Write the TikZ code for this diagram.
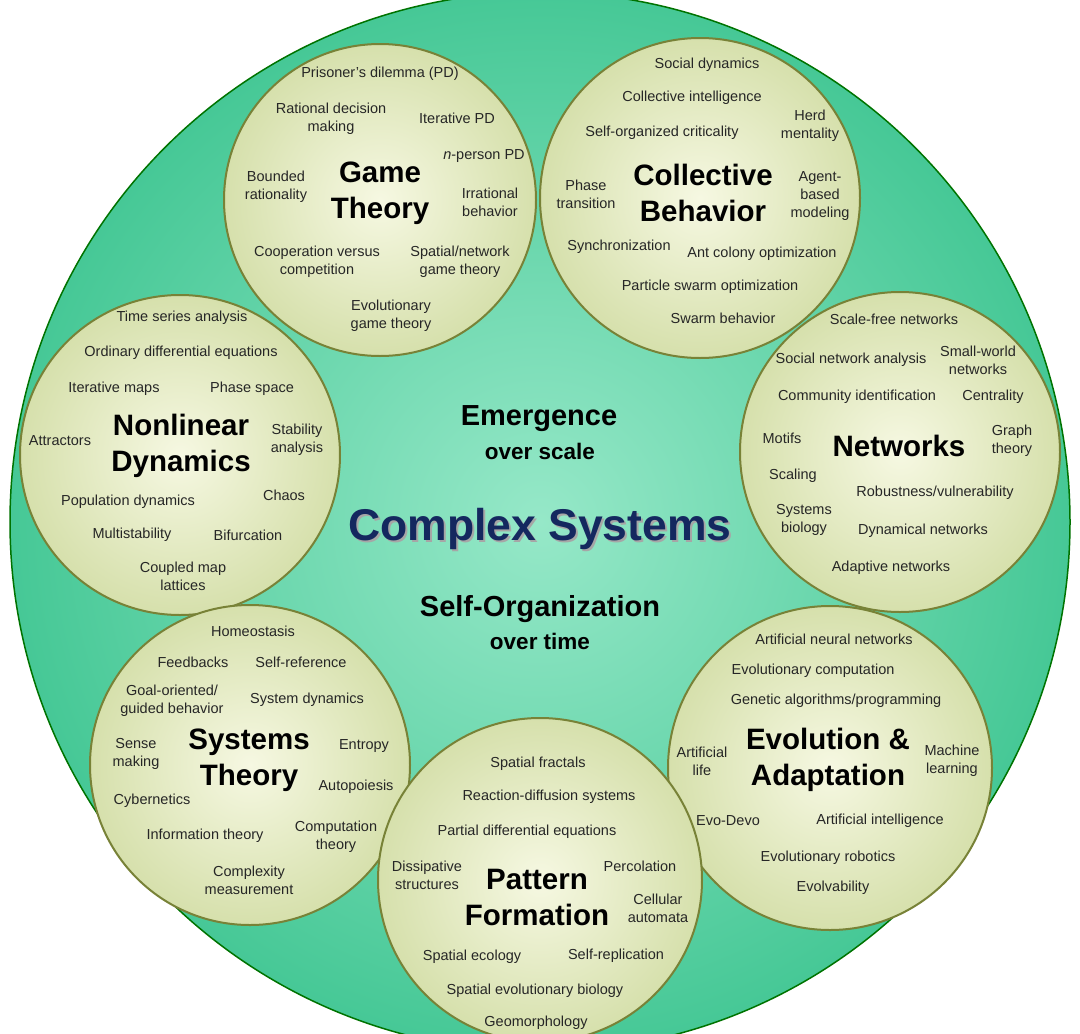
\documentclass[tikz,border=0pt]{standalone}
\usepackage{fontspec}
\setmainfont{Liberation Sans}
\begin{document}
\begin{tikzpicture}[x=1pt,y=-1pt,inner sep=0pt,outer sep=0pt,
field/.style={draw=green!45!black,line width=1.5pt,inner color={rgb,255:red,150;green,232;blue,200},outer color={rgb,255:red,70;green,200;blue,150}},
topic/.style={draw={rgb,255:red,120;green,130;blue,55},line width=2pt,inner color={rgb,255:red,246;green,248;blue,226},outer color={rgb,255:red,214;green,224;blue,172}},
term/.style={align=center,font=\fontsize{14.5}{18}\selectfont,text=black!85},
title/.style={align=center,font=\fontsize{29.5}{36}\selectfont\bfseries},
motto/.style={align=center,font=\fontsize{29}{32}\selectfont\bfseries},
sub/.style={align=center,font=\fontsize{22.5}{26}\selectfont\bfseries}]
\useasboundingbox (0,0) rectangle (1080,1034);
\fill[white] (0,0) rectangle (1080,1034);
\begin{scope}
\clip (0,0) rectangle (1080,1034);
\path[field] (540,522) circle (530);
\path[topic] (380,200) circle (156);
\path[topic] (700,198) circle (160);
\path[topic] (900,452) circle (160);
\path[topic] (180,455) circle (160);
\path[topic] (250,765) circle (160);
\path[topic] (830,768) circle (162);
\path[topic] (540,880) circle (162);
\end{scope}
% centre
\node[motto] (emg) at (539,419) {Emergence};
\node[sub] (emgs) at (540,451) {over scale};
\node[font=\fontsize{44.5}{50}\selectfont\bfseries,text=black!35] (cs2) at (542,531) {Complex Systems};
\node[font=\fontsize{44.5}{50}\selectfont\bfseries,text={rgb,255:red,20;green,40;blue,95}] (cs) at (540,529) {Complex Systems};
\node[motto] (sog) at (540,609) {Self-Organization};
\node[sub] (sogs) at (540,641) {over time};
% game theory
\node[title] (gt) at (380,193) {Game\\Theory};
\node[term] (gt1) at (380,74) {Prisoner's dilemma (PD)};
\node[term] (gt2) at (331,119) {Rational decision\\making};
\node[term] (gt3) at (457,118) {Iterative PD};
\node[term] (gt4) at (484,156) {\emph{n}-person PD};
\node[term] (gt5) at (276,187) {Bounded\\rationality};
\node[term] (gt6) at (490,202) {Irrational\\behavior};
\node[term] (gt7) at (317,262) {Cooperation versus\\competition};
\node[term] (gt8) at (460,262) {Spatial/network\\game theory};
\node[term] (gt9) at (391,316) {Evolutionary\\game theory};
% collective behavior
\node[title] (cb) at (703,193) {Collective\\Behavior};
\node[term] (cb1) at (707,65) {Social dynamics};
\node[term] (cb2) at (692,98) {Collective intelligence};
\node[term] (cb3) at (662,133) {Self-organized criticality};
\node[term] (cb4) at (810,126) {Herd\\mentality};
\node[term] (cb5) at (586,194) {Phase\\transition};
\node[term] (cb6) at (820,196) {Agent-\\based\\modeling};
\node[term] (cb7) at (619,247) {Synchronization};
\node[term] (cb8) at (762,254) {Ant colony optimization};
\node[term] (cb9) at (710,287) {Particle swarm optimization};
\node[term] (cb10) at (723,318) {Swarm behavior};
% networks
\node[title] (nw) at (899,446) {Networks};
\node[term] (nw1) at (894,319) {Scale-free networks};
\node[term] (nw2) at (851,360) {Social network analysis};
\node[term] (nw3) at (978,360) {Small-world\\networks};
\node[term] (nw4) at (857,397) {Community identification};
\node[term] (nw5) at (993,397) {Centrality};
\node[term] (nw6) at (782,438) {Motifs};
\node[term] (nw7) at (1012,441) {Graph\\theory};
\node[term] (nw8) at (793,476) {Scaling};
\node[term] (nw9) at (935,493) {Robustness/vulnerability};
\node[term] (nw10) at (804,520) {Systems\\biology};
\node[term] (nw11) at (923,531) {Dynamical networks};
\node[term] (nw12) at (891,568) {Adaptive networks};
% nonlinear dynamics
\node[title] (nd) at (181,446) {Nonlinear\\Dynamics};
\node[term] (nd1) at (182,318) {Time series analysis};
\node[term] (nd2) at (181,353) {Ordinary differential equations};
\node[term] (nd3) at (114,389) {Iterative maps};
\node[term] (nd4) at (252,389) {Phase space};
\node[term] (nd5) at (60,441) {Attractors};
\node[term] (nd6) at (297,440) {Stability\\analysis};
\node[term] (nd7) at (284,495) {Chaos};
\node[term] (nd8) at (128,502) {Population dynamics};
\node[term] (nd9) at (132,535) {Multistability};
\node[term] (nd10) at (248,535) {Bifurcation};
\node[term] (nd11) at (183,576) {Coupled map\\lattices};
% systems theory
\node[title] (st) at (249,760) {Systems\\Theory};
\node[term] (st1) at (253,631) {Homeostasis};
\node[term] (st2) at (193,662) {Feedbacks};
\node[term] (st3) at (301,662) {Self-reference};
\node[term] (st4) at (172,701) {Goal-oriented/\\guided behavior};
\node[term] (st5) at (307,700) {System dynamics};
\node[term] (st6) at (136,754) {Sense\\making};
\node[term] (st7) at (364,746) {Entropy};
\node[term] (st8) at (356,787) {Autopoiesis};
\node[term] (st9) at (152,801) {Cybernetics};
\node[term] (st10) at (205,836) {Information theory};
\node[term] (st11) at (336,837) {Computation\\theory};
\node[term] (st12) at (249,880) {Complexity\\measurement};
% evolution and adaptation
\node[title] (ea) at (828,760) {Evolution \&\\Adaptation};
\node[term] (ea1) at (834,639) {Artificial neural networks};
\node[term] (ea2) at (813,671) {Evolutionary computation};
\node[term] (ea3) at (836,701) {Genetic algorithms/programming};
\node[term] (ea4) at (702,761) {Artificial\\life};
\node[term] (ea5) at (952,761) {Machine\\learning};
\node[term] (ea6) at (728,821) {Evo-Devo};
\node[term] (ea7) at (880,821) {Artificial intelligence};
\node[term] (ea8) at (828,858) {Evolutionary robotics};
\node[term] (ea9) at (833,888) {Evolvability};
% pattern formation
\node[title] (pf) at (537,897) {Pattern\\Formation};
\node[term] (pf1) at (538,764) {Spatial fractals};
\node[term] (pf2) at (549,797) {Reaction-diffusion systems};
\node[term] (pf3) at (527,832) {Partial differential equations};
\node[term] (pf4) at (427,875) {Dissipative\\structures};
\node[term] (pf5) at (640,866) {Percolation};
\node[term] (pf6) at (658,908) {Cellular\\automata};
\node[term] (pf7) at (472,957) {Spatial ecology};
\node[term] (pf8) at (616,956) {Self-replication};
\node[term] (pf9) at (535,991) {Spatial evolutionary biology};
\node[term] (pf10) at (536,1023) {Geomorphology};
\end{tikzpicture}
\end{document}
